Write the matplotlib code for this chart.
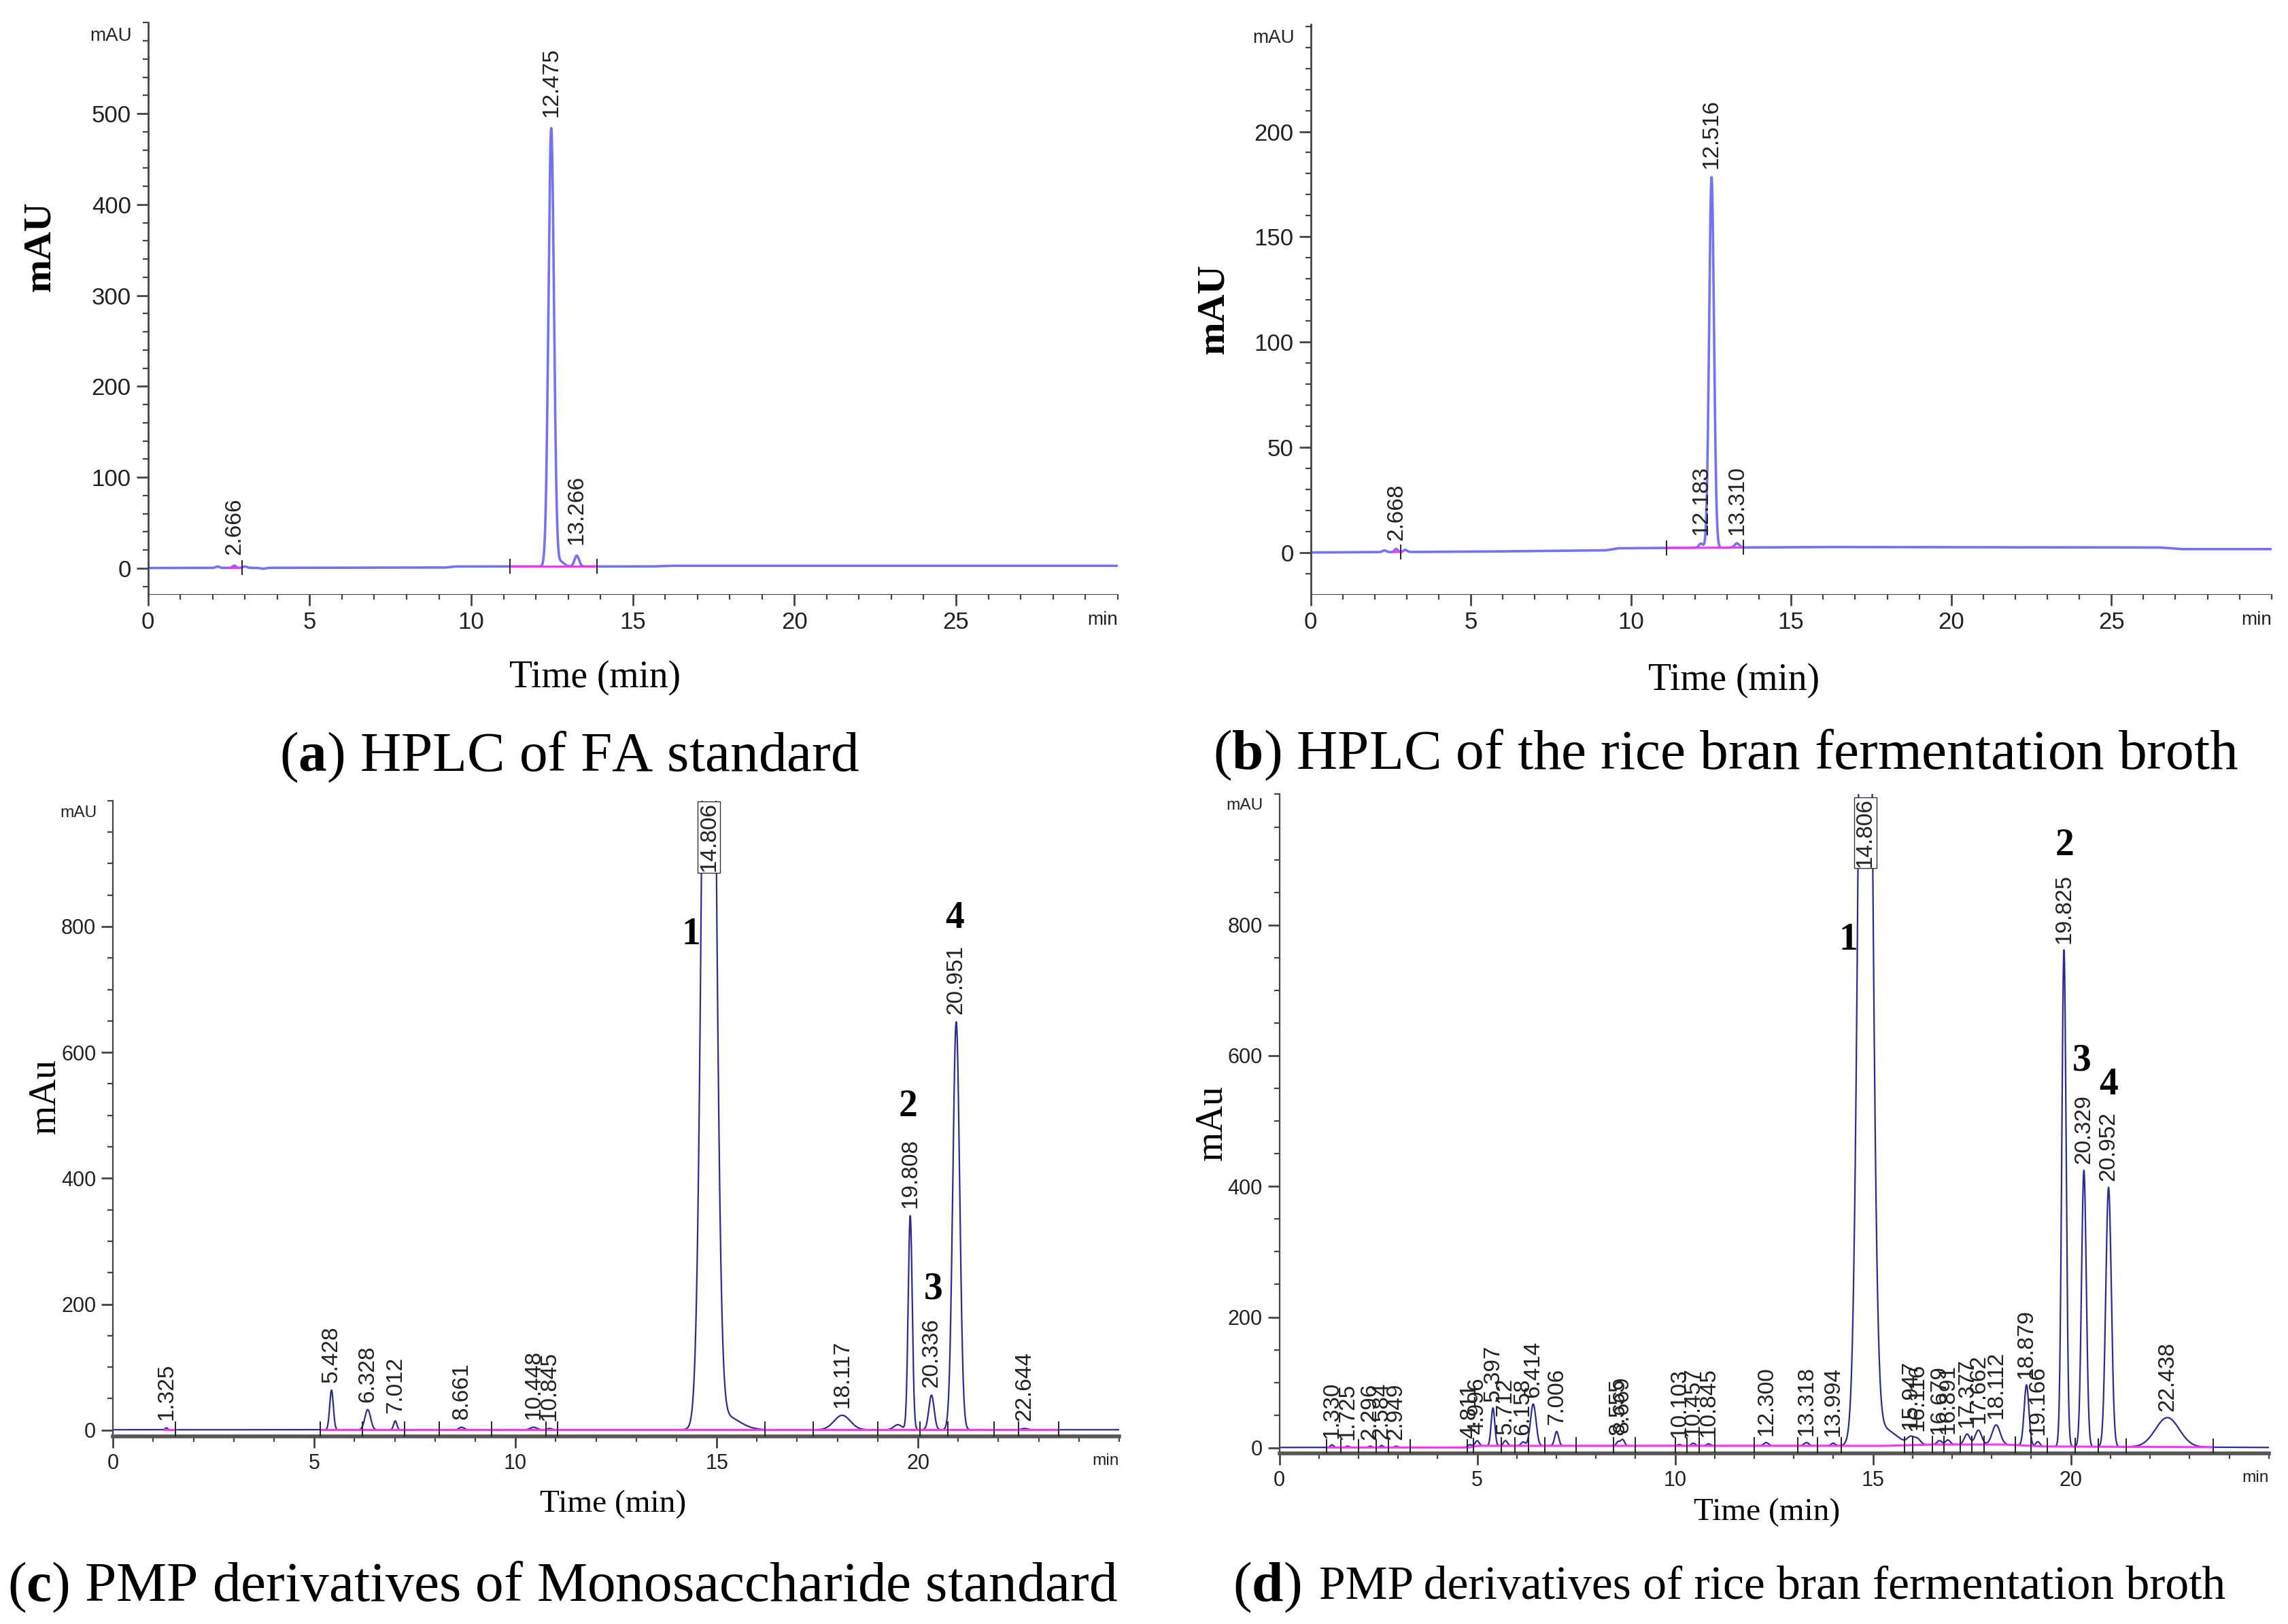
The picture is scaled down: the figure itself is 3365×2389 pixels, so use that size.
import numpy as np
import matplotlib.pyplot as plt
from matplotlib.ticker import MultipleLocator, FixedLocator

plt.rcParams['mathtext.fontset'] = 'custom'
plt.rcParams['mathtext.rm'] = 'Liberation Serif'
plt.rcParams['mathtext.bf'] = 'Liberation Serif:bold'

# ---- (a) HPLC of FA standard: peak table (time, height, sigma) ----
rt_a = [2.15, 2.666, 3.0, 3.55, 12.475, 12.78, 13.266]
h_a = [1.5, 2.5, 1.5, -1.0, 482, 5, 12]
w_a = [0.06, 0.05, 0.06, 0.08, 0.085, 0.1, 0.07]
lab_a = ['', '2.666', '', '', '12.475', '', '13.266']
base_t_a = [0, 9.2, 9.5, 15.6, 16.2, 30]
base_v_a = [0.3, 0.8, 2.0, 2.0, 2.8, 2.8]
pink_a = [(2.5, 2.85), (11.2, 13.9)]
marks_a = [2.9, 11.2, 13.9]

# ---- (b) HPLC of rice bran fermentation broth ----
rt_b = [2.3, 2.668, 2.95, 12.183, 12.516, 13.310]
h_b = [0.8, 1.5, 1.0, 2.0, 176, 2.0]
w_b = [0.06, 0.05, 0.06, 0.06, 0.075, 0.07]
lab_b = ['', '2.668', '', '12.183', '12.516', '13.310']
base_t_b = [0, 5, 9.2, 9.6, 16, 26.5, 27.2, 30]
base_v_b = [0.0, 0.4, 1.0, 2.0, 2.6, 2.4, 1.6, 1.6]
pink_b = [(2.55, 2.85), (11.1, 13.5)]
marks_b = [2.8, 11.1, 13.5]

# ---- (c) PMP derivatives of monosaccharide standard ----
rt_c = [1.325, 5.428, 6.328, 7.012, 8.661, 10.448, 10.845,
        14.806, 15.2, 18.117, 19.5, 19.808, 20.336, 20.951, 22.644]
h_c = [3, 63, 32, 14, 4, 4, 2, 2000, 22, 23, 8, 340, 55, 648, 2]
w_c = [0.03, 0.045, 0.07, 0.04, 0.06, 0.08, 0.06,
       0.145, 0.35, 0.2, 0.1, 0.05, 0.065, 0.085, 0.08]
lab_c = ['1.325', '5.428', '6.328', '7.012', '8.661', '10.448', '10.845',
         '14.806', '', '18.117', '', '19.808', '20.336', '20.951', '22.644']
base_t_c = [0, 25]
base_v_c = [0.5, 0.5]
pink_c = [(1.28, 1.55), (5.15, 23.5)]
marks_c = [1.55, 5.15, 6.2, 7.25, 8.1, 9.4, 10.75, 11.05, 16.2, 17.4,
           19.0, 20.05, 20.75, 21.9, 22.5, 23.5]
num_c = ['1', '2', '3', '4']
num_xc = [14.36, 19.76, 20.38, 20.92]
num_yc = [787, 514, 224, 813]

# ---- (d) PMP derivatives of rice bran fermentation broth ----
rt_d = [1.330, 1.725, 2.296, 2.584, 2.949, 4.811, 4.996, 5.397, 5.712,
        6.158, 6.414, 7.006, 8.555, 8.669, 10.103, 10.457, 10.845, 12.300,
        13.318, 13.994, 14.806, 15.2, 15.947, 16.116, 16.679, 16.891,
        17.377, 17.662, 18.112, 18.879, 19.166, 19.825, 20.329, 20.952, 22.438]
h_d = [4, 2, 2, 3, 2, 4, 8, 58, 8, 6, 64, 22, 6, 10, 2, 4, 3, 5,
       5, 4, 2000, 28, 10, 9, 6, 7, 16, 22, 30, 93, 7, 760, 423, 397, 45]
w_d = [0.04, 0.04, 0.04, 0.04, 0.04, 0.05, 0.05, 0.045, 0.05,
       0.05, 0.07, 0.05, 0.04, 0.05, 0.05, 0.05, 0.05, 0.06,
       0.06, 0.05, 0.145, 0.35, 0.08, 0.08, 0.06, 0.06,
       0.07, 0.08, 0.1, 0.06, 0.05, 0.055, 0.06, 0.07, 0.3]
lab_d = ['1.330', '1.725', '2.296', '2.584', '2.949', '4.811', '4.996', '5.397', '5.712',
         '6.158', '6.414', '7.006', '8.555', '8.669', '10.103', '10.457', '10.845', '12.300',
         '13.318', '13.994', '14.806', '', '15.947', '16.116', '16.679', '16.891',
         '17.377', '17.662', '18.112', '18.879', '19.166', '19.825', '20.329', '20.952', '22.438']
base_t_d = [0, 4.8, 5.0, 15.3, 16.5, 18.3, 19.3, 25]
base_v_d = [0.5, 0.5, 3, 3, 5, 5, 2, 0.5]
pink_d = [(1.2, 23.6)]
marks_d = [1.2, 1.55, 2.0, 2.45, 2.75, 3.3, 4.75, 4.9, 5.6, 5.95, 6.3, 6.7,
           7.5, 8.45, 9.0, 10.0, 10.3, 10.6, 11.0, 12.0, 13.1, 13.6, 14.2,
           15.8, 16.0, 16.5, 16.8, 17.2, 17.5, 17.8, 18.6, 19.0, 19.4,
           20.1, 20.7, 21.4, 23.6]
num_d = ['1', '2', '3', '4']
num_xd = [14.38, 19.85, 20.28, 20.96]
num_yd = [777, 921, 592, 555]

TICKFONT = ['Liberation Sans', 'DejaVu Sans']


def trace(t, rt, h, w, bt, bv):
    y = np.interp(t, bt, bv)
    for r, hh, ww in zip(rt, h, w):
        y = y + hh * np.exp(-0.5 * ((t - r) / ww) ** 2)
    return y


def panel(rect, rt, h, w, lab, bt, bv, pink, marks, tmax, ylim, major, minor,
          color, lw, off, lsize, tsize, spine_lw):
    ax = fig.add_axes(rect)
    t = np.linspace(0, tmax, 8000)
    y = trace(t, rt, h, w, bt, bv)
    for t0, t1 in pink:
        tt = np.linspace(t0, t1, 200)
        ax.plot(tt, np.interp(tt, bt, bv), color='#ff33ff', lw=2.2, zorder=3)
    ax.plot(t, y, color=color, lw=lw, zorder=2)
    span = ylim[1] - ylim[0]
    for m in marks:
        yb = np.interp(m, bt, bv)
        ax.plot([m, m], [yb - 0.012 * span, yb + 0.012 * span], color='#222222',
                lw=1.4, zorder=4)
    for r, text in zip(rt, lab):
        if not text:
            continue
        apex = trace(np.array([r]), rt, h, w, bt, bv)[0]
        if apex > ylim[1]:
            ax.text(r, ylim[1] - 0.112 * span, text, rotation=90, ha='center',
                    va='bottom', fontsize=lsize, family='Liberation Sans',
                    color='#222222', zorder=5,
                    bbox=dict(facecolor='white', edgecolor='#333333', lw=1.0, pad=1))
        else:
            ax.text(r, apex + off, text, rotation=90, ha='center', va='bottom',
                    fontsize=lsize, family='Liberation Sans', color='#222222', zorder=5)
    ax.set_xlim(0, tmax)
    ax.set_ylim(*ylim)
    ax.yaxis.set_major_locator(FixedLocator(major))
    ax.yaxis.set_minor_locator(MultipleLocator(minor))
    ax.xaxis.set_major_locator(FixedLocator(list(range(0, tmax - 4, 5))))
    ax.xaxis.set_minor_locator(MultipleLocator(1))
    for s in ['top', 'right']:
        ax.spines[s].set_visible(False)
    ax.spines['left'].set_linewidth(spine_lw)
    ax.spines['left'].set_color('#444444')
    ax.spines['bottom'].set_color('#444444')
    ax.tick_params(which='major', length=12, width=2, color='#444444',
                   labelsize=tsize, labelcolor='#222222', pad=6)
    ax.tick_params(which='minor', length=6, width=1.6, color='#444444')
    for lbl in ax.get_xticklabels() + ax.get_yticklabels():
        lbl.set_family(TICKFONT)
    ax.annotate('min', xy=(1, 0), xycoords='axes fraction', xytext=(0, -18),
                textcoords='offset points', ha='right', va='top',
                fontsize=tsize * 0.8, family=TICKFONT, color='#222222')
    ax.annotate('mAU', xy=(0, 1), xycoords='axes fraction', xytext=(-17, -5),
                textcoords='offset points', ha='right', va='top',
                fontsize=tsize * 0.8, family=TICKFONT, color='#222222')
    return ax


fig = plt.figure(figsize=(33.66, 23.89), dpi=100)

BLUE_LIGHT = '#7272ff'
NAVY = '#2a2a9c'

ax_a = panel([0.0647, 0.634, 0.4236, 0.352], rt_a, h_a, w_a, lab_a, base_t_a, base_v_a,
             pink_a, marks_a, 30, (-28.7, 600), [0, 100, 200, 300, 400, 500], 20,
             BLUE_LIGHT, 2.6, 12, 24, 25, 2.0)
ax_b = panel([0.5727, 0.634, 0.4198, 0.3511], rt_b, h_b, w_b, lab_b, base_t_b, base_v_b,
             pink_b, marks_b, 30, (-19.9, 251), [0, 50, 100, 150, 200], 10,
             BLUE_LIGHT, 2.6, 4, 24, 25, 2.0)
ax_c = panel([0.0494, 0.1157, 0.4396, 0.3913], rt_c, h_c, w_c, lab_c, base_t_c, base_v_c,
             pink_c, marks_c, 25, (-9.6, 1000), [0, 200, 400, 600, 800], 50,
             NAVY, 1.6, 12, 24, 22, 1.6)
ax_d = panel([0.559, 0.1052, 0.4323, 0.4061], rt_d, h_d, w_d, lab_d, base_t_d, base_v_d,
             pink_d, marks_d, 25, (-8.2, 1001), [0, 200, 400, 600, 800], 50,
             NAVY, 1.6, 10, 24, 22, 1.6)

for ax in (ax_c, ax_d):
    ax.spines['bottom'].set_linewidth(4)
    ax.spines['bottom'].set_color('#555555')

for ax, nums, xs, ys in ((ax_c, num_c, num_xc, num_yc), (ax_d, num_d, num_xd, num_yd)):
    for n, x, yv in zip(nums, xs, ys):
        ax.text(x, yv, n, ha='center', va='center', fontsize=40,
                family='Liberation Serif', fontweight='bold', color='black')

# axis titles
fig.text(0.0176, 0.8484, 'mAU', rotation=90, ha='center', va='center',
         fontsize=42, family='Liberation Serif', fontweight='bold')
fig.text(0.5302, 0.8097, 'mAU', rotation=90, ha='center', va='center',
         fontsize=42, family='Liberation Serif', fontweight='bold')
fig.text(0.0197, 0.3252, 'mAu', rotation=90, ha='center', va='center',
         fontsize=40, family='Liberation Serif')
fig.text(0.5294, 0.3086, 'mAu', rotation=90, ha='center', va='center',
         fontsize=40, family='Liberation Serif')
fig.text(0.260, 0.5826, 'Time (min)', ha='center', va='center',
         fontsize=40, family='Liberation Serif')
fig.text(0.7576, 0.581, 'Time (min)', ha='center', va='center',
         fontsize=40, family='Liberation Serif')
fig.text(0.2678, 0.0738, 'Time (min)', ha='center', va='center',
         fontsize=34, family='Liberation Serif')
fig.text(0.772, 0.0688, 'Time (min)', ha='center', va='center',
         fontsize=34, family='Liberation Serif')

# captions
fig.text(0.2487, 0.5336, r'($\mathbf{a}$) HPLC of FA standard', ha='center',
         va='center', fontsize=60, family='Liberation Serif')
fig.text(0.754, 0.535, r'($\mathbf{b}$) HPLC of the rice bran fermentation broth',
         ha='center', va='center', fontsize=60, family='Liberation Serif')
fig.text(0.246, 0.0226, r'($\mathbf{c}$) PMP derivatives of Monosaccharide standard',
         ha='center', va='center', fontsize=60, family='Liberation Serif')
fig.text(0.5684, 0.0226, r'($\mathbf{d}$)', ha='right', va='center',
         fontsize=60, family='Liberation Serif')
fig.text(0.5765, 0.0226, 'PMP derivatives of rice bran fermentation broth',
         ha='left', va='center', fontsize=50, family='Liberation Serif')

fig.savefig('out.png', dpi=100)
